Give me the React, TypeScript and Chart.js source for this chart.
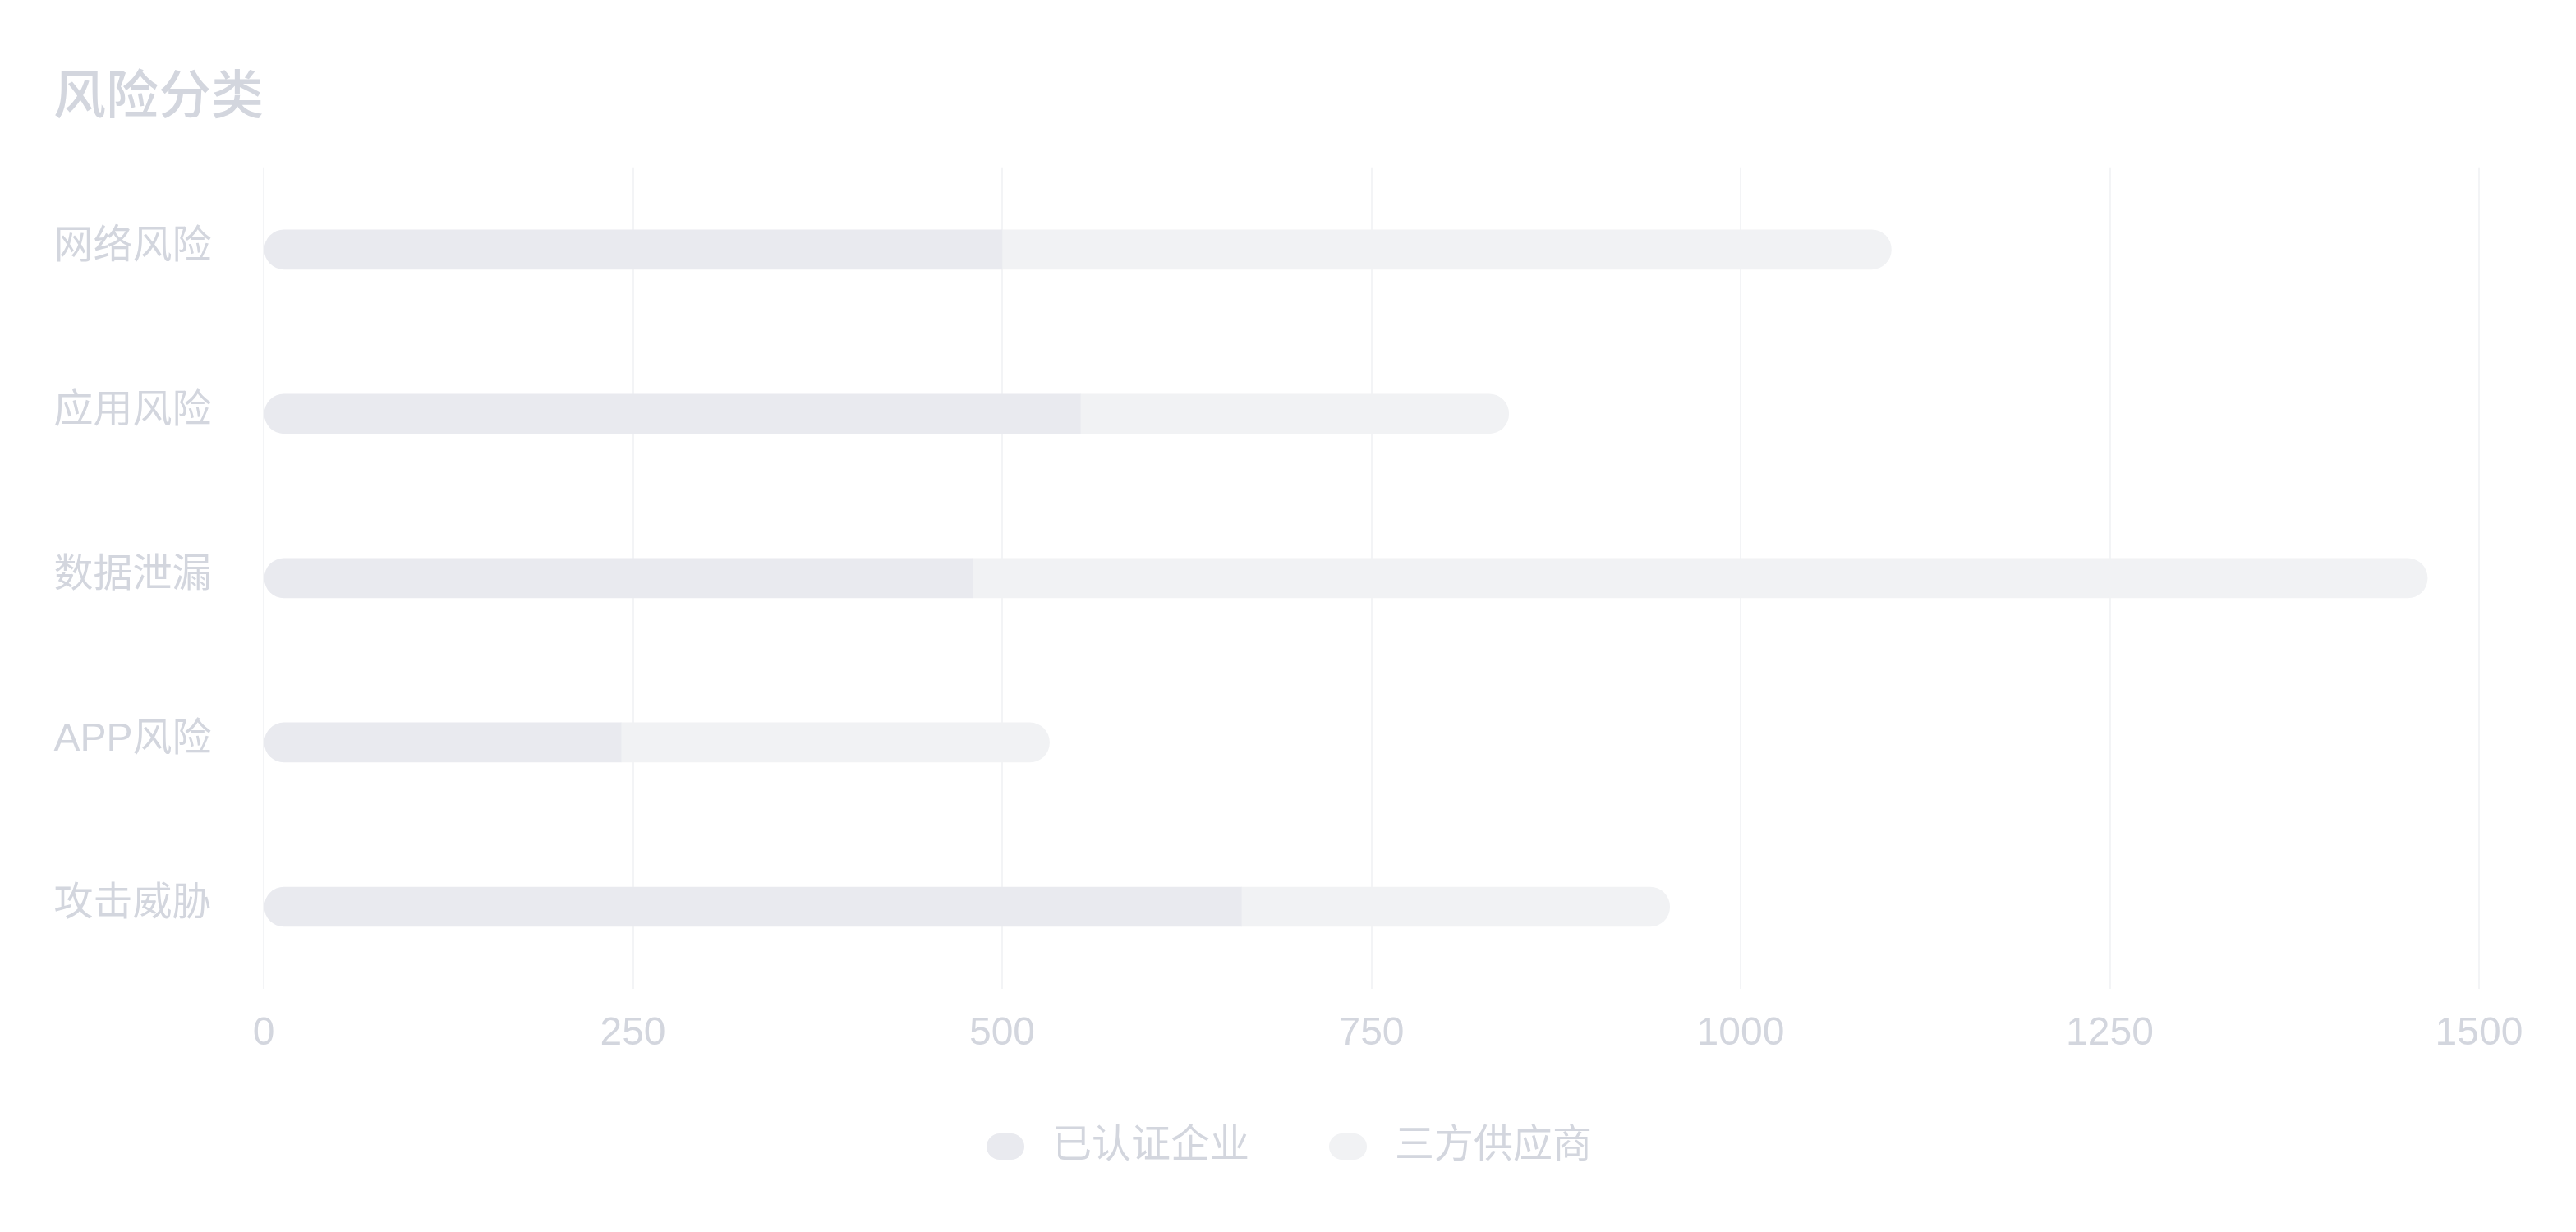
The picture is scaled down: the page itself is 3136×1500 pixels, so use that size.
import React, { useEffect, useRef } from 'react';
import { Chart, registerables } from 'chart.js';

Chart.register(...registerables);

// ---- data ----
const titleText = '风险分类';
const categories = ['网络风险', '应用风险', '数据泄漏', 'APP风险', '攻击威胁'];
const seriesNames = ['已认证企业', '三方供应商'];
const certifiedValues = [500, 553, 480, 242, 662];
const supplierValues = [602, 290, 985, 290, 290];
const xMin = 0;
const xMax = 1500;
const xStep = 250;

// ---- styles ----
const FONT = '"Liberation Sans", "Noto Sans CJK SC", sans-serif';
const TEXT = '#d3d6de';
const COLORS = ['#e9eaef', '#f1f2f4'];
const GRID = '#f3f4f6';

function makePill(color: string): HTMLCanvasElement {
  const c = document.createElement('canvas');
  c.width = 92;
  c.height = 32;
  const ctx = c.getContext('2d') as CanvasRenderingContext2D;
  ctx.fillStyle = color;
  const x = 46, y = 0, w = 46, h = 32, r = 16;
  ctx.beginPath();
  ctx.moveTo(x + r, y);
  ctx.lineTo(x + w - r, y);
  ctx.arc(x + w - r, y + r, r, -Math.PI / 2, Math.PI / 2);
  ctx.lineTo(x + r, y + h);
  ctx.arc(x + r, y + r, r, Math.PI / 2, (3 * Math.PI) / 2);
  ctx.closePath();
  ctx.fill();
  return c;
}

export default function App() {
  const ref = useRef<HTMLCanvasElement | null>(null);

  useEffect(() => {
    const canvas = ref.current;
    if (!canvas) return;
    const pills = COLORS.map((c) => makePill(c));
    const chart = new Chart(canvas, {
      type: 'bar',
      data: {
        labels: categories,
        datasets: [
          {
            label: seriesNames[0],
            data: certifiedValues,
            backgroundColor: COLORS[0],
            barThickness: 48,
            borderRadius: { topLeft: 24, bottomLeft: 24, topRight: 0, bottomRight: 0 },
            borderSkipped: false,
          },
          {
            label: seriesNames[1],
            data: supplierValues,
            backgroundColor: COLORS[1],
            barThickness: 48,
            borderRadius: { topLeft: 0, bottomLeft: 0, topRight: 24, bottomRight: 24 },
            borderSkipped: false,
          },
        ],
      },
      options: {
        indexAxis: 'y',
        responsive: false,
        animation: false,
        layout: { padding: { left: 65, right: 118, top: 0, bottom: 70 } },
        scales: {
          x: {
            stacked: true,
            min: xMin,
            max: xMax,
            ticks: {
              stepSize: xStep,
              padding: 26,
              color: TEXT,
              font: { family: FONT, size: 48, lineHeight: 1.2 },
              callback: (v: any) => String(v),
            },
            grid: { color: GRID, lineWidth: 2, drawTicks: false },
            border: { display: false },
            afterFit: (s: any) => {
              s.paddingLeft = 0;
              s.paddingRight = 0;
              s.height = 127;
            },
          },
          y: {
            stacked: true,
            ticks: {
              padding: 63.5,
              labelOffset: -3,
              color: TEXT,
              font: { family: FONT, size: 48, lineHeight: 1.2 },
            },
            grid: { display: false, drawTicks: false },
            border: { display: false },
            afterFit: (s: any) => {
              s.width = 256;
            },
          },
        },
        plugins: {
          title: {
            display: true,
            text: titleText,
            align: 'start',
            color: TEXT,
            font: { family: FONT, size: 64, weight: '500', lineHeight: 1.2 },
            padding: { top: 82, bottom: 45 },
          },
          legend: {
            position: 'bottom',
            labels: {
              usePointStyle: true,
              pointStyleWidth: 112,
              padding: 41,
              color: TEXT,
              font: { family: FONT, size: 48 },
              generateLabels: (ch: any) =>
                (Chart.defaults.plugins.legend.labels.generateLabels as any)(ch).map(
                  (it: any, i: number) => ({ ...it, pointStyle: pills[i % pills.length] })
                ),
            },
          },
          tooltip: { enabled: false },
        },
      } as any,
    });
    return () => chart.destroy();
  }, []);

  return (
    <div style={{ position: 'absolute', left: 0, top: 0, width: 3136, height: 1500, background: '#ffffff' }}>
      <canvas ref={ref} width={3136} height={1500} style={{ display: 'block', width: 3136, height: 1500 }} />
    </div>
  );
}
